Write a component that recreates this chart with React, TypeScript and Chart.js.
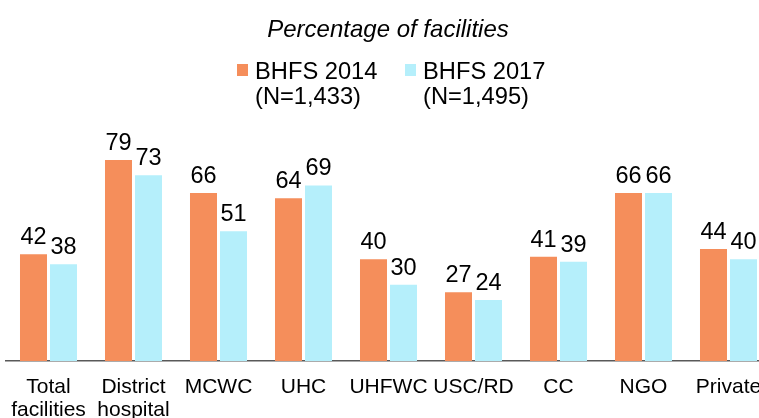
import React, { useEffect, useRef } from "react";
import { Chart, registerables } from "chart.js";

Chart.register(...registerables);

const categories: (string | string[])[] = [
  ["Total", "facilities"],
  ["District", "hospital"],
  "MCWC",
  "UHC",
  "UHFWC",
  "USC/RD",
  "CC",
  "NGO",
  "Private",
];
const bhfs2014 = [42, 79, 66, 64, 40, 27, 41, 66, 44];
const bhfs2017 = [38, 73, 51, 69, 30, 24, 39, 66, 40];
const seriesNames = [
  ["BHFS 2014", "(N=1,433)"],
  ["BHFS 2017", "(N=1,495)"],
];
const titleText = "Percentage of facilities";

const ORANGE = "#F58E5B";
const CYAN = "#B5EFFB";
const FONT = "'Liberation Sans', Arial, sans-serif";

const overlayPlugin = {
  id: "overlay",
  afterDatasetsDraw(chart: any) {
    const ctx = chart.ctx;
    ctx.save();
    ctx.fillStyle = "#000";
    ctx.font = `23.5px ${FONT}`;
    ctx.textAlign = "center";
    ctx.textBaseline = "alphabetic";
    chart.data.datasets.forEach((ds: any, di: number) => {
      const meta = chart.getDatasetMeta(di);
      meta.data.forEach((bar: any, i: number) => {
        ctx.fillText(String(ds.data[i]), bar.x, bar.y - 10);
      });
    });
    ctx.restore();
  },
  afterDraw(chart: any) {
    const ctx = chart.ctx;
    ctx.save();
    ctx.fillStyle = "#000";
    ctx.textBaseline = "alphabetic";
    ctx.textAlign = "center";
    ctx.font = `italic 24px ${FONT}`;
    ctx.fillText(titleText, 388, 37);
    ctx.textAlign = "left";
    ctx.font = `23.7px ${FONT}`;
    const xs = [237, 405];
    const colors = [ORANGE, CYAN];
    seriesNames.forEach((lines, k) => {
      ctx.fillStyle = colors[k];
      ctx.fillRect(xs[k], 64, 11, 12);
      ctx.fillStyle = "#000";
      lines.forEach((ln, j) => {
        ctx.fillText(ln, xs[k] + 18, 79 + j * 25);
      });
    });
    ctx.restore();
  },
};

export default function App() {
  const ref = useRef<HTMLCanvasElement | null>(null);
  useEffect(() => {
    if (!ref.current) return;
    const chart = new Chart(ref.current, {
      type: "bar",
      data: {
        labels: categories,
        datasets: [
          {
            label: "BHFS 2014",
            data: bhfs2014,
            backgroundColor: ORANGE,
            categoryPercentage: 0.706,
            barPercentage: 0.9,
          },
          {
            label: "BHFS 2017",
            data: bhfs2017,
            backgroundColor: CYAN,
            categoryPercentage: 0.706,
            barPercentage: 0.9,
          },
        ],
      },
      options: {
        responsive: false,
        animation: false,
        layout: { padding: { top: 106.6, left: 6, right: 9, bottom: 0 } },
        plugins: {
          legend: { display: false },
          title: { display: false },
          tooltip: { enabled: false },
        },
        scales: {
          x: {
            grid: { display: false, drawTicks: false },
            border: { display: true, color: "#595959", width: 1.5 },
            ticks: {
              color: "#000",
              padding: 15,
              maxRotation: 0,
              autoSkip: false,
              font: { family: FONT, size: 21, lineHeight: 1.1 },
            },
            afterFit(scale: any) {
              scale.height = 57;
              scale.paddingLeft = 0;
              scale.paddingRight = 0;
            },
          },
          y: { display: false, min: 0, max: 100 },
        },
      },
      plugins: [overlayPlugin],
    });
    return () => chart.destroy();
  }, []);
  return (
    <div style={{ position: "fixed", left: 0, top: 0, width: 759, height: 418, overflow: "hidden", background: "#fff" }}>
      <canvas ref={ref} width={780} height={418} style={{ display: "block" }} />
    </div>
  );
}
